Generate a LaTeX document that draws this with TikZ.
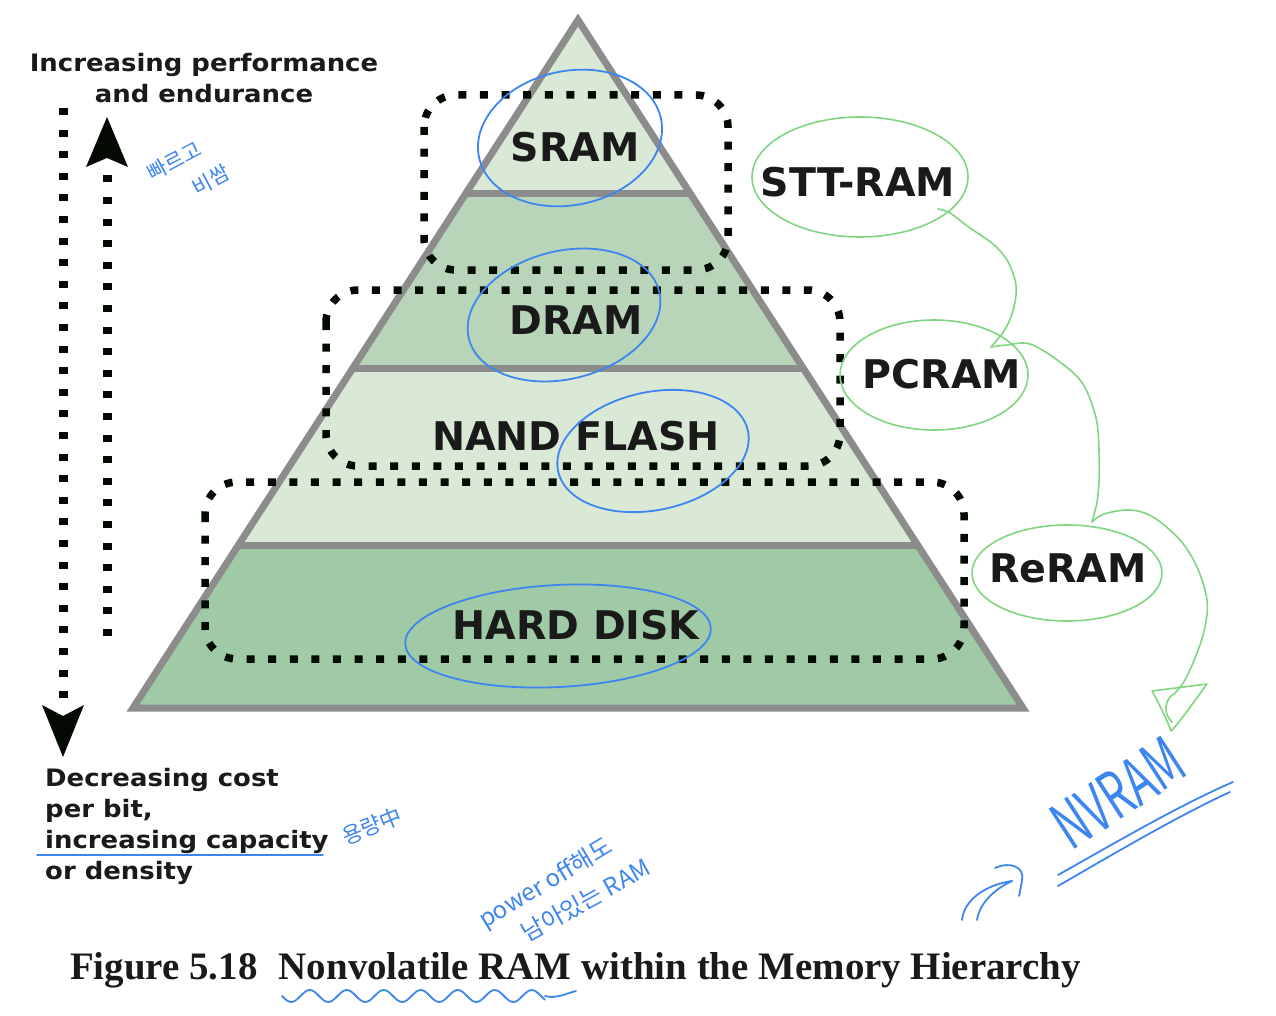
\documentclass[tikz,border=0pt]{standalone}
\usepackage{fontspec}
\setmainfont{DejaVu Sans}
\newfontfamily\lblfont[FakeStretch=1.08]{DejaVu Sans}
\newfontfamily\capfont{Liberation Serif}
\newfontfamily\hand{Noto Sans CJK KR}
\usetikzlibrary{shapes.geometric}
\definecolor{pyrgray}{HTML}{8C8C8C}
\definecolor{lightg}{HTML}{DAE8D6}
\definecolor{midg}{HTML}{B8D5BA}
\definecolor{darkg}{HTML}{A0C9A5}
\definecolor{inkblue}{HTML}{3E86EF}
\definecolor{inkgreen}{HTML}{80D680}
\definecolor{dotblack}{HTML}{020A02}
\definecolor{txt}{HTML}{1A1A1A}
\begin{document}
\begin{tikzpicture}[x=1pt,y=-1pt,
  layerlabel/.style={font=\bfseries\fontsize{39.5}{44}\selectfont, text=txt, inner sep=0pt},
  sidetext/.style={font=\lblfont\bfseries\fontsize{24}{31}\selectfont, text=txt, inner sep=0pt},
  pyredge/.style={draw=pyrgray, line width=7pt},
  dotbox/.style={draw=dotblack, line width=7.5pt, dash pattern=on 8pt off 13.6pt, rounded corners=32pt},
  dotarrow/.style={draw=dotblack, line width=9pt, dash pattern=on 7pt off 14.6pt},
  arrowtip/.style={fill=dotblack},
  blueink/.style={draw=inkblue, line width=1.8pt, line cap=round, line join=round},
  greenink/.style={draw=inkgreen, line width=1.6pt, line cap=round, line join=round},
  handtext/.style={font=\hand\fontsize{#1}{#1}\selectfont, text=inkblue, inner sep=0pt},
  handtext/.default=18
]
\useasboundingbox (0,0) rectangle (1276,1016);
\fill[white] (0,0) rectangle (1276,1016);

% ---------- pyramid ----------
\coordinate (apex) at (578,20);
\coordinate (bl) at (133,708);
\coordinate (br) at (1023,708);
\begin{scope}
  \clip (apex) -- (bl) -- (br) -- cycle;
  \fill[lightg] (0,0) rectangle (1276,194);
  \fill[midg] (0,194) rectangle (1276,368);
  \fill[lightg] (0,368) rectangle (1276,545);
  \fill[darkg] (0,545) rectangle (1276,712);
\end{scope}
\draw[pyredge] (464.5,194) -- (691.5,194);
\draw[pyredge] (352.5,368) -- (803.5,368);
\draw[pyredge] (238.5,545) -- (917.5,545);
\draw[pyredge, line join=miter] (apex) -- (bl) -- (br) -- cycle;

% ---------- dotted boxes ----------
\draw[dotbox] (424,95) rectangle (728,270);
\draw[dotbox] (326,290) rectangle (840,466);
\draw[dotbox] (205,482) rectangle (964,659);

% ---------- layer labels ----------
\node[layerlabel] (sram) at (575,147) {SRAM};
\node[layerlabel] (dram) at (576,320) {DRAM};
\node[layerlabel] (nand) at (576,436) {NAND FLASH};
\node[layerlabel] (hdd) at (576,625) {HARD DISK};

\node[layerlabel] (stt) at (858,182) {STT-RAM};
\node[layerlabel] (pcram) at (942,374) {PCRAM};
\node[layerlabel] (reram) at (1068,568) {ReRAM};

% ---------- side arrows ----------
\coordinate (downtop) at (63,108);
\coordinate (downend) at (63,712);
\coordinate (downtip) at (63,757);
\draw[dotarrow] (downtop) -- (downend);
\fill[arrowtip] (downtip) -- (42,705) -- (63,716) -- (84,705) -- cycle;
\coordinate (upbot) at (107,636);
\coordinate (upend) at (107,162);
\coordinate (uptip) at (107,117);
\draw[dotarrow] (upbot) -- (upend);
\fill[arrowtip] (uptip) -- (86,167) -- (107,158) -- (128,167) -- cycle;

\node[sidetext, align=center] (perf) at (204,78) {Increasing performance\\and endurance};
\node[sidetext, align=left, anchor=north west] (cost) at (45,768) {Decreasing cost\\per bit,\\increasing capacity\\or density};

% ---------- caption ----------
\node[anchor=base west, inner sep=0pt, text=txt, font=\capfont\bfseries\fontsize{38.9}{40}\selectfont] (caption) at (70,979) {Figure 5.18\hspace{0.55em}Nonvolatile RAM within the Memory Hierarchy};

% ---------- blue annotations ----------
\draw[blueink, rotate around={12:(570,138)}] (570,138) ellipse [x radius=93, y radius=67];
\draw[blueink, rotate around={14:(564,315)}] (564,315) ellipse [x radius=98, y radius=64];
\draw[blueink, rotate around={12:(653,451)}] (653,451) ellipse [x radius=97, y radius=59];
\draw[blueink, rotate around={3:(558,636)}] (558,636) ellipse [x radius=153, y radius=51];

\draw[blueink] (37,855) -- (323,855);

\node[handtext=21, rotate=28] (ko1) at (174,161) {빠르고};
\node[handtext=21, rotate=28] (ko2) at (211,180) {비쌈};
\node[handtext=22, rotate=22] (ko3) at (372,826) {용량中};
\node[handtext=24, rotate=31] (pw1) at (546,884) {power off해도};
\node[handtext=24, rotate=29] (pw2) at (586,900) {남아있는 RAM};
\node[handtext=50, rotate=33] (nvram) at (1118,793) {\scalebox{0.85}[1.3]{NVRAM}};

\draw[blueink] (1058,875) .. controls (1120,840) and (1180,805) .. (1233,782);
\draw[blueink] (1058,886) .. controls (1120,850) and (1180,815) .. (1230,792);

\draw[blueink] (962,920) .. controls (964,900) and (985,885) .. (1012,881);
\draw[blueink] (977,920) .. controls (980,902) and (995,889) .. (1012,881);
\draw[blueink] (995,868) .. controls (1010,861) and (1025,867) .. (1022,880) .. controls (1021,886) and (1020,892) .. (1019,896);

\draw[blueink] plot[domain=0:263, samples=120] ({282+\x}, {996 + 6*sin(\x*9.73)});
\draw[blueink] (545,996) .. controls (555,999) and (565,994) .. (576,991);

% ---------- green annotations ----------
\draw[greenink] (860,177) ellipse [x radius=108, y radius=60];
\draw[greenink] (934,375) ellipse [x radius=94, y radius=55];
\draw[greenink] (1067,573) ellipse [x radius=95, y radius=48];

\coordinate (gstart) at (938,209);
\coordinate (gend) at (1172,722);
\draw[greenink] plot[smooth, tension=0.55] coordinates {(gstart) (950,213) (970,228) (993,244) (1007,260) (1015,280) (1016,295) (1012,314) (1004,331) (991,347)};
\draw[greenink] plot[smooth, tension=0.55] coordinates {(991,347) (1007,345) (1030,344) (1060,362) (1083,384) (1096,418) (1099,450) (1099,480) (1097,502) (1092,522)};
\draw[greenink] plot[smooth, tension=0.55] coordinates {(1092,522) (1104,514) (1130,510) (1153,517) (1180,540) (1197,567) (1207,600) (1205,627) (1197,653) (1185,680) (1175,693)};
\draw[greenink] (1175,693) .. controls (1163,700) and (1164,715) .. (gend);
\draw[greenink] (1152,691) -- (1207,684) .. controls (1195,700) and (1180,722) .. (1171,731) .. controls (1165,715) and (1158,702) .. cycle;
\end{tikzpicture}
\end{document}
